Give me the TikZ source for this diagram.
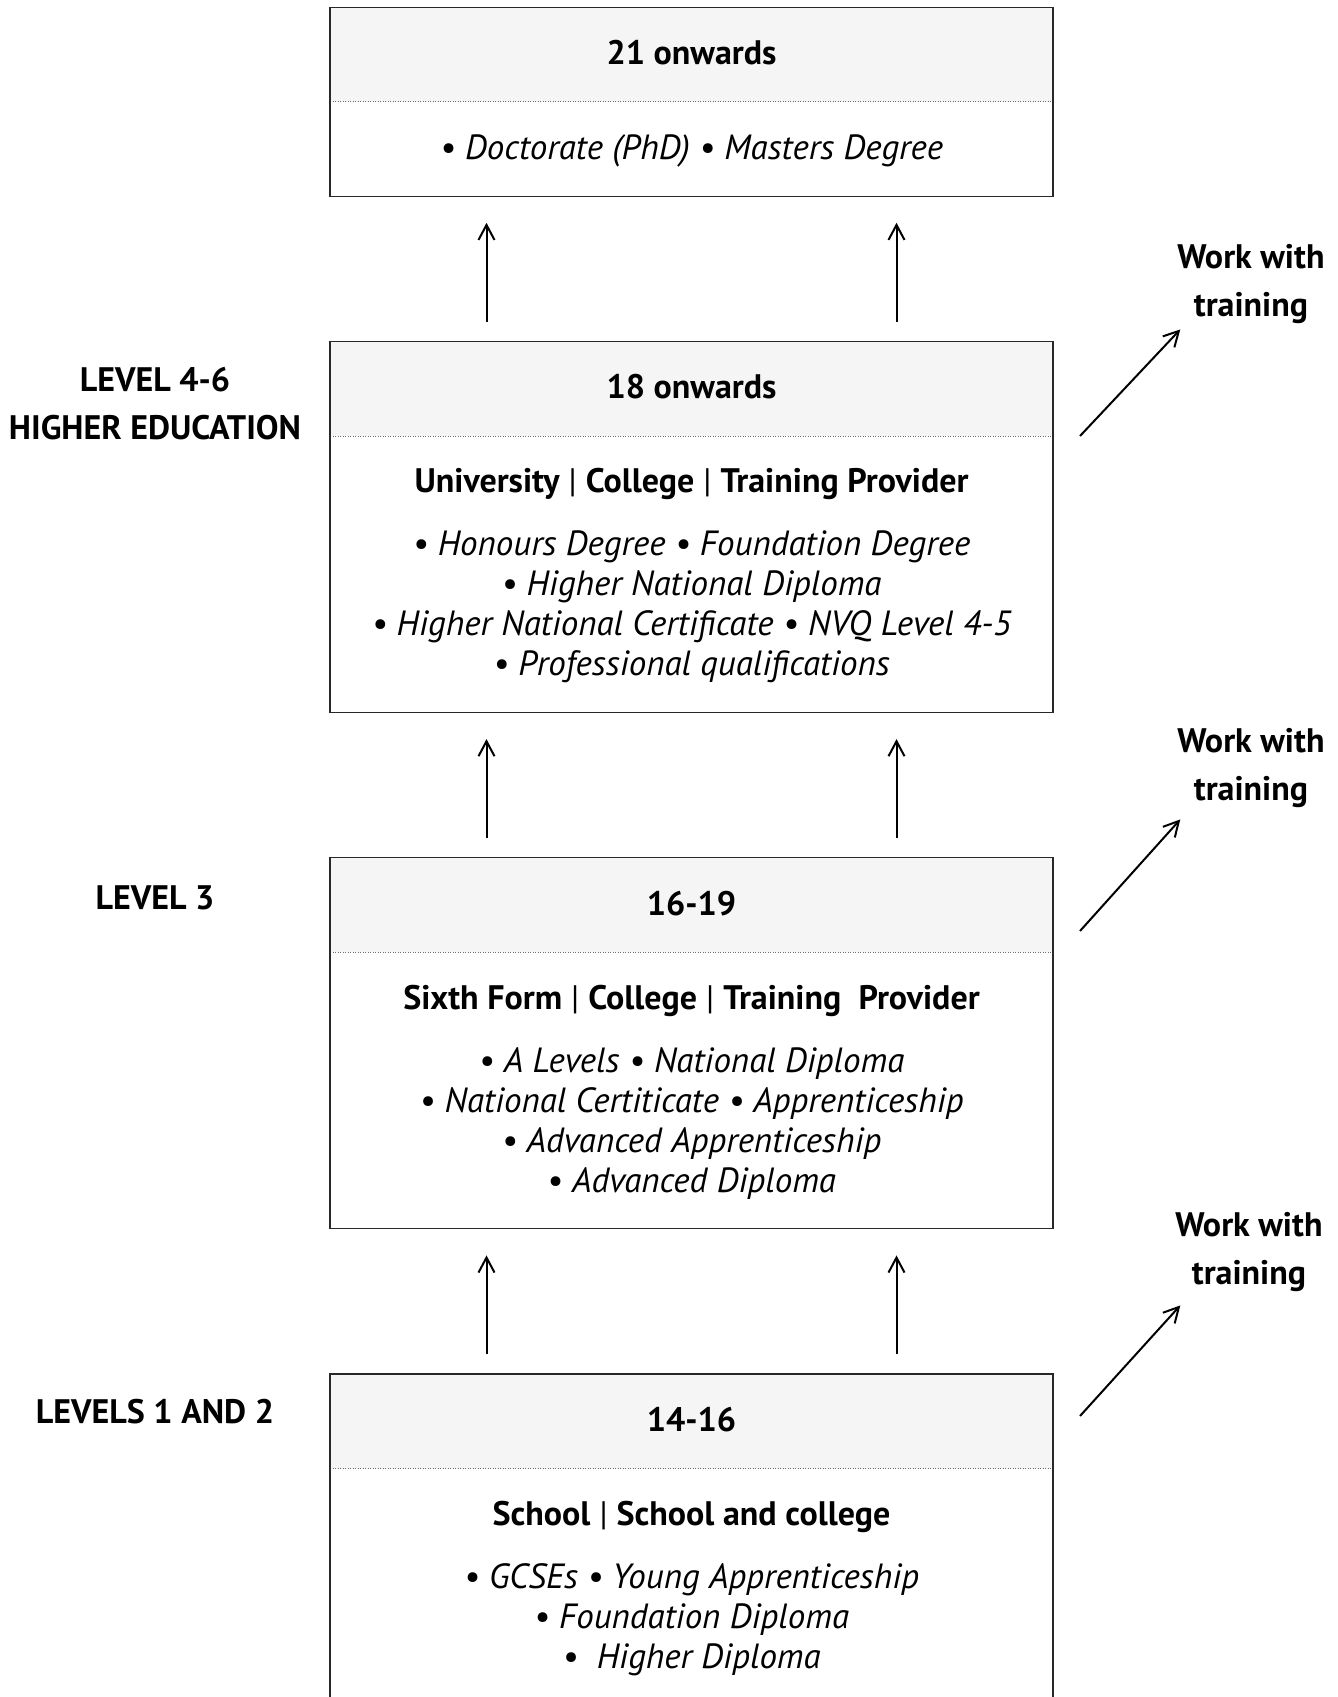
\documentclass[tikz,border=0pt]{standalone}
\usepackage{fontspec}
\setmainfont{PT Sans}
\usetikzlibrary{arrows.meta,positioning}
\definecolor{framegray}{RGB}{40,40,40}
\definecolor{headgray}{RGB}{245,245,245}
\definecolor{dotgray}{RGB}{110,110,110}
\tikzset{
  stage box/.style={
    rectangle, draw=framegray, line width=1.3pt,
    minimum width=723pt, minimum height=371pt, inner sep=0pt,
    path picture={
      \fill[headgray] (path picture bounding box.north west)
        rectangle ([yshift=-94.5pt]path picture bounding box.north east);
      \draw[dotgray, line width=0.9pt, dash pattern=on 0.9pt off 1.6pt]
        ([yshift=-94.5pt]path picture bounding box.north west)
        -- ([yshift=-94.5pt]path picture bounding box.north east);
    }
  },
  age text/.style={anchor=base, inner sep=0pt, font=\fontsize{34}{40}\selectfont\bfseries},
  venue text/.style={anchor=base, inner sep=0pt, font=\fontsize{34}{40}\selectfont\bfseries},
  % multi-line nodes: base is the last line
  item text/.style={anchor=base, inner sep=0pt, align=center, font=\fontsize{35}{40}\selectfont\itshape},
  level text/.style={anchor=base, inner sep=0pt, align=center, font=\fontsize{34}{47.6}\selectfont\bfseries},
  work text/.style={anchor=base, inner sep=0pt, align=center, font=\fontsize{34}{47.6}\selectfont\bfseries},
  up arrow/.style={-{Straight Barb[length=15pt,width=16pt]}, line width=2pt,
    shorten <=19pt, shorten >=26pt},
  work arrow/.style={-{Straight Barb[length=15pt,width=16pt]}, line width=2pt}
}
\newcommand{\sepbar}{{\mdseries\ |\ }}

\begin{document}
\begin{tikzpicture}[x=1pt, y=1pt]
    \useasboundingbox (0,0) rectangle (1338,-1697);
    % stage boxes
    \node[stage box, minimum height=189pt, anchor=north] (phd) at (691.5,-6.5) {};
    \node[stage box, below=144pt of phd] (higher) {};
    \node[stage box, below=144pt of higher] (sixth) {};
    \node[stage box, below=144pt of sixth] (school) {};
    % headers
    \node[age text] (phdage) at ([yshift=-58pt]phd.north) {21 onwards};
    \node[age text] (higherage) at ([yshift=-58pt]higher.north) {18 onwards};
    \node[age text] (sixthage) at ([yshift=-58pt]sixth.north) {16-19};
    \node[age text] (schoolage) at ([yshift=-58pt]school.north) {14-16};
    % providers
    \node[venue text] (highervenue) at ([yshift=-152pt]higher.north) {University\sepbar College\sepbar Training Provider};
    \node[venue text] (sixthvenue) at ([yshift=-152pt]sixth.north) {Sixth Form\sepbar College\sepbar Training~ Provider};
    \node[venue text] (schoolvenue) at ([yshift=-152pt]school.north) {School\sepbar School and college};
    % qualifications
    \node[item text] (phditems) at ([yshift=-152.5pt]phd.north) {• Doctorate (PhD) • Masters Degree};
    \node[item text] (higheritems) at ([yshift=-335pt]higher.north) {• Honours Degree • Foundation Degree\\• Higher National Diploma\\• Higher National Certificate • NVQ Level 4-5\\• Professional qualifications};
    \node[item text] (sixthitems) at ([yshift=-335pt]sixth.north) {• A Levels • National Diploma\\• National Certiticate • Apprenticeship\\• Advanced Apprenticeship\\• Advanced Diploma};
    \node[item text] (schoolitems) at ([yshift=-295pt]school.north) {• GCSEs • Young Apprenticeship\\• Foundation Diploma\\•~ Higher Diploma};
    % levels
    \node[level text] (higherlevel) at (155,-439) {LEVEL 4-6\\HIGHER EDUCATION};
    \node[level text] (sixthlevel) at (155,-909) {LEVEL 3};
    \node[level text] (schoollevel) at (155,-1423) {LEVELS 1 AND 2};
    % work with training
    \node[work text] (higherwork) at (1251,-316) {Work with\\training};
    \node[work text] (sixthwork) at (1251,-800) {Work with\\training};
    \node[work text] (schoolwork) at (1249,-1284) {Work with\\training};
    \coordinate (higherexit) at (1080,-436);
    \coordinate (sixthexit) at (1080,-931);
    \coordinate (schoolexit) at (1080,-1416);
    \draw[up arrow] ([xshift=-205pt]higher.north) -- ([xshift=-205pt]phd.south);
    \draw[up arrow] ([xshift=205pt]higher.north) -- ([xshift=205pt]phd.south);
    \draw[up arrow] ([xshift=-205pt]sixth.north) -- ([xshift=-205pt]higher.south);
    \draw[up arrow] ([xshift=205pt]sixth.north) -- ([xshift=205pt]higher.south);
    \draw[up arrow] ([xshift=-205pt]school.north) -- ([xshift=-205pt]sixth.south);
    \draw[up arrow] ([xshift=205pt]school.north) -- ([xshift=205pt]sixth.south);
    \draw[work arrow] (higherexit) -- ([shift={(3pt,-6pt)}]higherwork.south west);
    \draw[work arrow] (sixthexit) -- ([shift={(3pt,-12pt)}]sixthwork.south west);
    \draw[work arrow] (schoolexit) -- ([shift={(5pt,-14pt)}]schoolwork.south west);
  \end{tikzpicture}
\end{document}
